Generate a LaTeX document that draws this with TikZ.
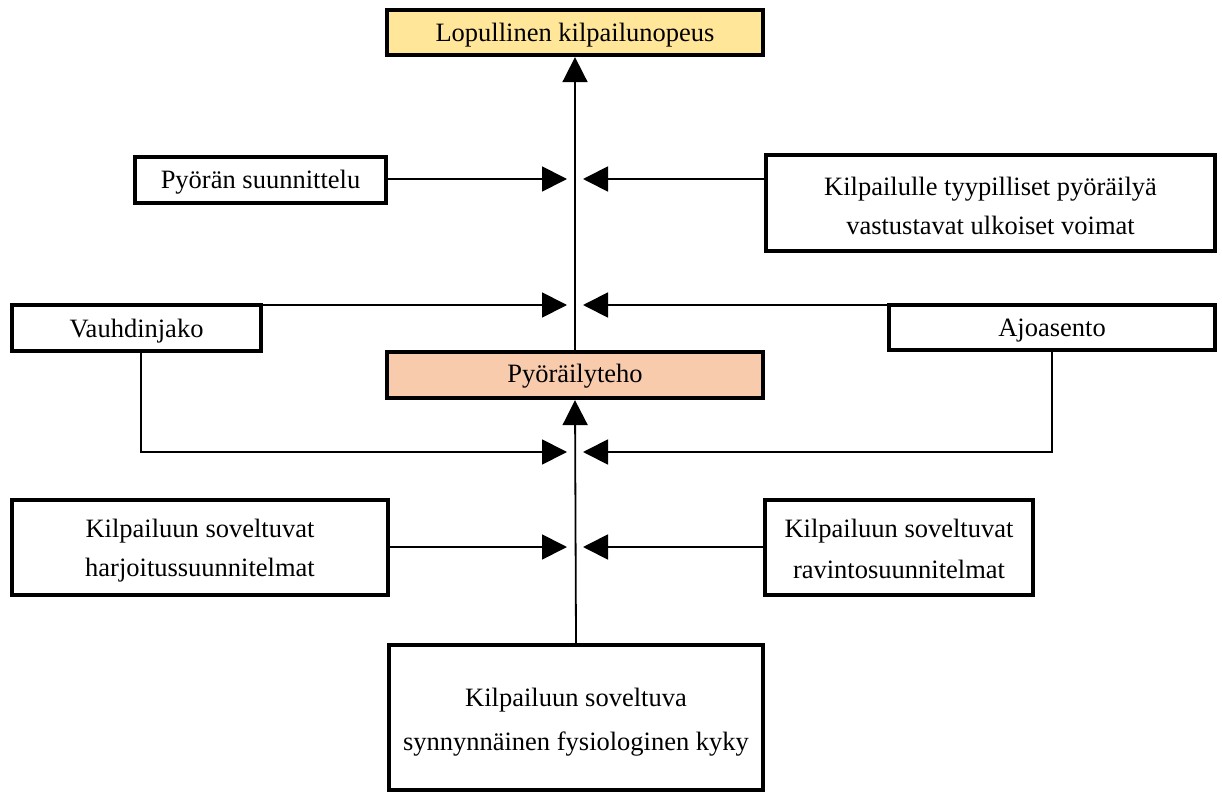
\documentclass[tikz,border=0pt]{standalone}
\usepackage{fontspec}
\setmainfont{Liberation Serif}
\usetikzlibrary{arrows.meta}
\definecolor{boxyellow}{HTML}{FFE699}
\definecolor{boxsalmon}{HTML}{F8CBAD}
\begin{document}
\begin{tikzpicture}[x=1pt,y=-1pt,
  box/.style={draw=black,line width=4.3pt,fill=white,inner sep=0pt},
  txt/.style={inner sep=0pt,align=center,font=\fontsize{26.5}{39}\selectfont},
  conn/.style={line width=1.8pt,-{Triangle[length=25pt 0 0,width=25pt 0 0]}}]
\useasboundingbox (0,0) rectangle (1222,794);
% boxes
\node[box,fill=boxyellow,minimum width=376pt,minimum height=45pt] (top) at (575,32.5) {};
\node[box,minimum width=251pt,minimum height=46pt] (pyora) at (260.5,180) {};
\node[box,minimum width=449pt,minimum height=96pt] (ulk) at (990.5,203) {};
\node[box,minimum width=249pt,minimum height=46pt] (vauhd) at (136.5,328) {};
\node[box,minimum width=326pt,minimum height=45pt] (ajo) at (1052,327.5) {};
\node[box,fill=boxsalmon,minimum width=376pt,minimum height=46pt] (teho) at (575,375) {};
\node[box,minimum width=376pt,minimum height=95pt] (harj) at (200,547.5) {};
\node[box,minimum width=268pt,minimum height=95pt] (rav) at (899,547.5) {};
\node[box,minimum width=374pt,minimum height=145pt] (kyky) at (576,717.5) {};
% texts
\node[txt] (topt) at ([yshift=-3pt]top.center) {Lopullinen kilpailunopeus};
\node[txt] (pyorat) at ([yshift=-2pt]pyora.center) {Pyörän suunnittelu};
\node[txt] (ulkt) at ([yshift=-3pt]ulk.center) {Kilpailulle tyypilliset pyöräilyä\\vastustavat ulkoiset voimat};
\node[txt] (vauhdt) at ([yshift=-3.5pt]vauhd.center) {Vauhdinjako};
\node[txt] (ajot) at ([yshift=-3.5pt]ajo.center) {Ajoasento};
\node[txt] (tehot) at ([yshift=-1.5pt]teho.center) {Pyöräilyteho};
\node[txt] (harjt) at ([yshift=-3pt]harj.center) {Kilpailuun soveltuvat\\harjoitussuunnitelmat};
\node[txt,font=\fontsize{26.5}{41}\selectfont] (ravt) at ([yshift=-1pt]rav.center) {Kilpailuun soveltuvat\\ravintosuunnitelmat};
\node[txt,font=\fontsize{26.5}{44}\selectfont] (kykyt) at ([yshift=-5pt]kyky.center) {Kilpailuun soveltuva\\synnynnäinen fysiologinen kyky};
% junction points
\coordinate (j1l) at (567,179);
\coordinate (j1r) at (583,179);
\coordinate (j2l) at (567,305);
\coordinate (j2r) at (583,305);
\coordinate (j3l) at (567,452);
\coordinate (j3r) at (583,452);
\coordinate (j4l) at (567,547);
\coordinate (j4r) at (583,547);
% vertical spine
\draw[conn] (kyky.north) -- (teho.south);
\draw[conn] (teho.north) -- (top.south);
% side arrows
\draw[conn] (pyora.east |- j1l) -- (j1l);
\draw[conn] (ulk.west |- j1r) -- (j1r);
\draw[conn] (vauhd.east |- j2l) -- (j2l);
\draw[conn] (ajo.west |- j2r) -- (j2r);
\draw[conn] ([xshift=4.5pt]vauhd.south) |- (j3l);
\draw[conn] (ajo.south) |- (j3r);
\draw[conn] (harj.east |- j4l) -- (j4l);
\draw[conn] (rav.west |- j4r) -- (j4r);
\end{tikzpicture}
\end{document}
